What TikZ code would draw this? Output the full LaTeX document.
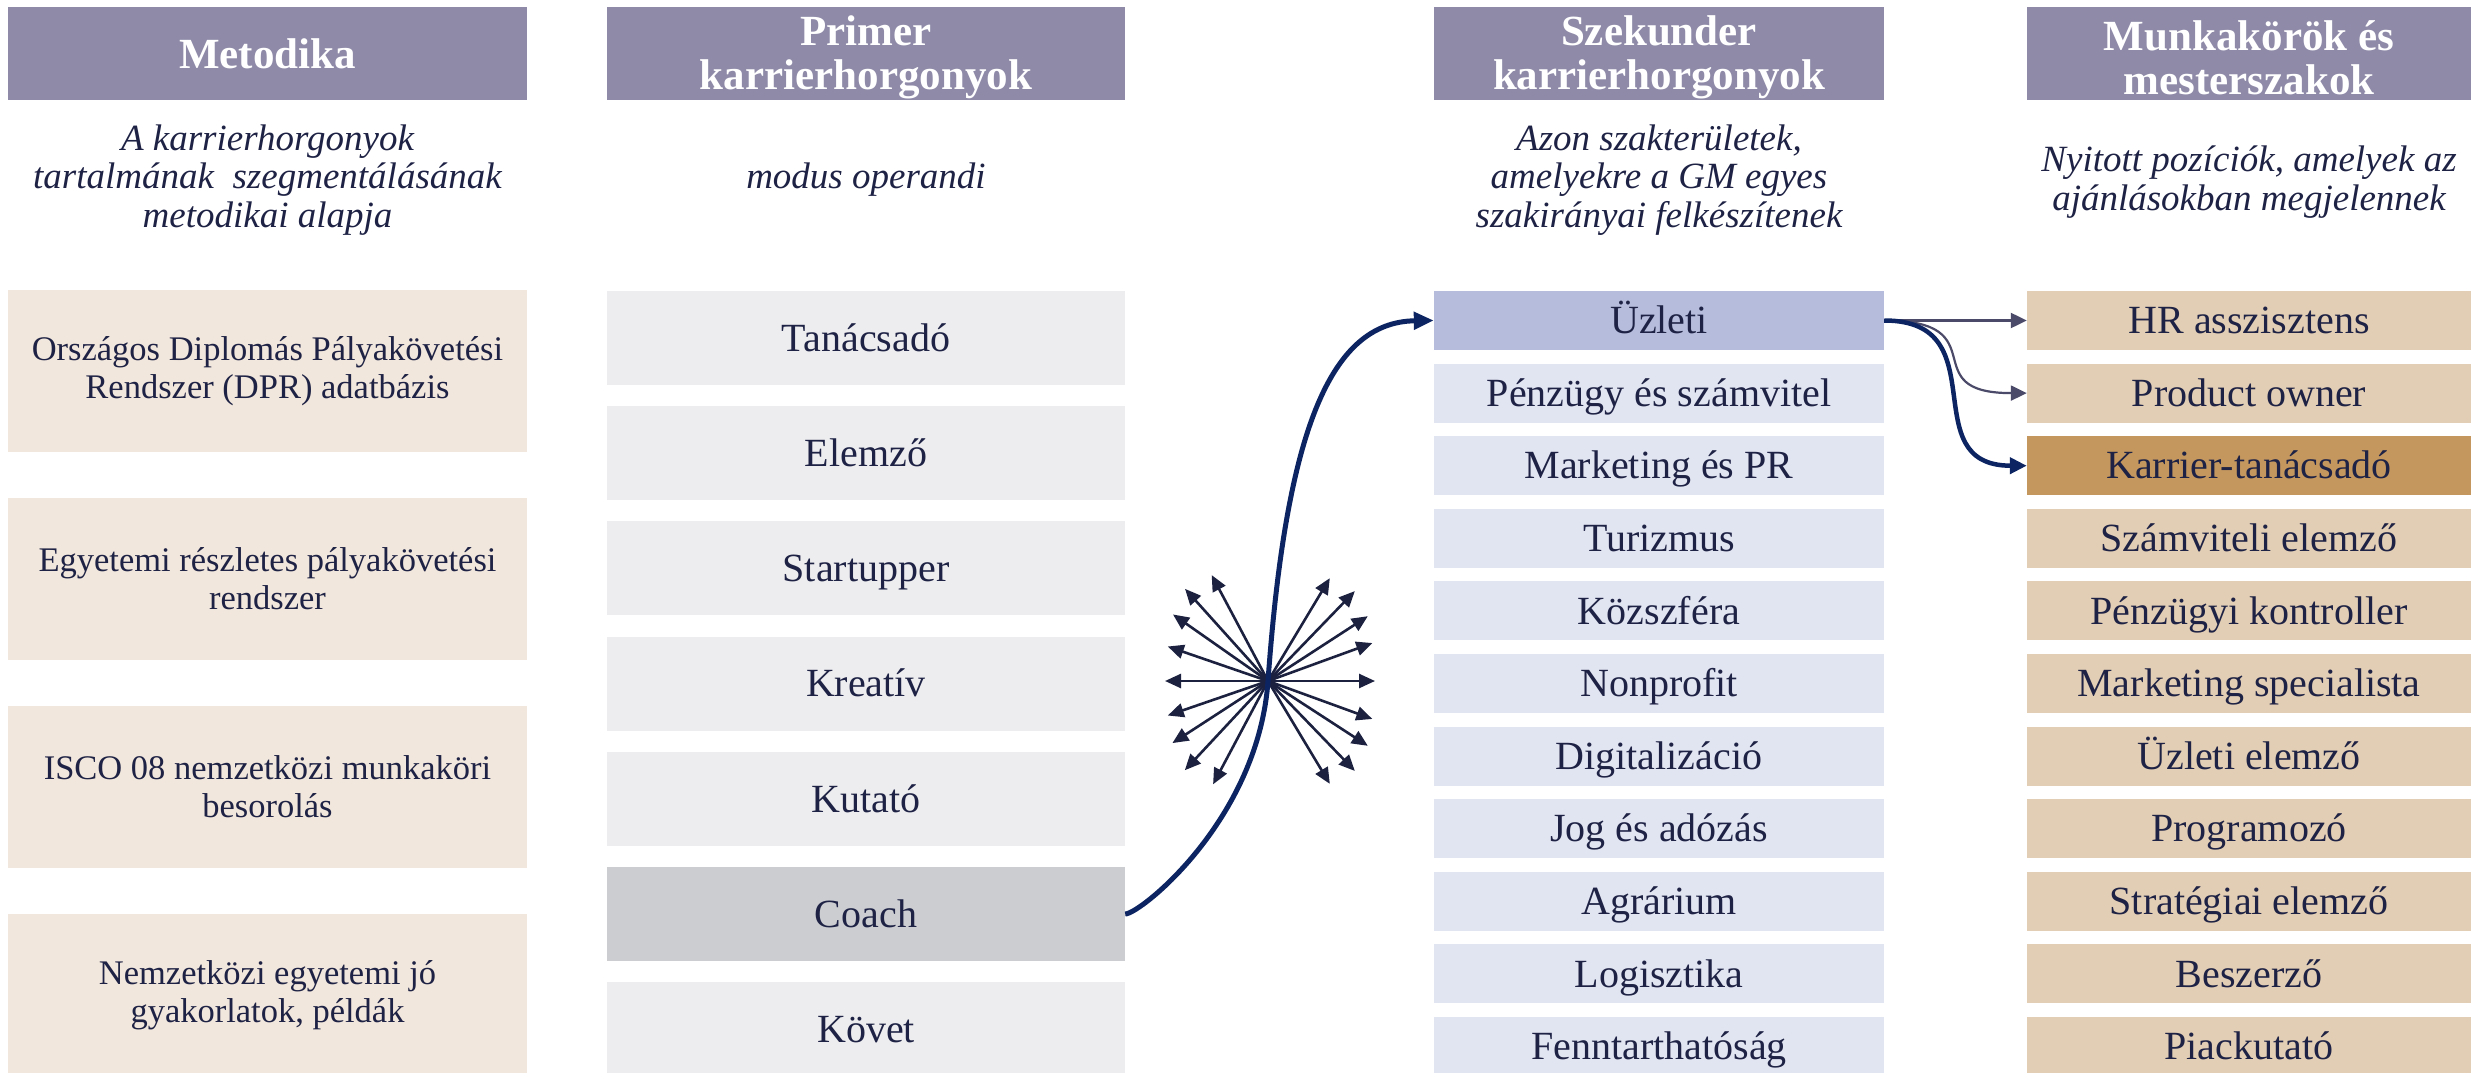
\documentclass[tikz,border=0pt]{standalone}
\usepackage{fontspec}
\setmainfont{Liberation Serif}
\usetikzlibrary{arrows.meta}
\definecolor{hdr}{HTML}{8E8AA8}
\definecolor{ink}{HTML}{1E2244}
\definecolor{metfill}{HTML}{F2E7DC}
\definecolor{primfill}{HTML}{EDEDEF}
\definecolor{primselc}{HTML}{CBCDD1}
\definecolor{szekfill}{HTML}{E1E4F1}
\definecolor{szekselc}{HTML}{B5BCDC}
\definecolor{munkfill}{HTML}{E2CEB4}
\definecolor{munkselc}{HTML}{C4975F}
\definecolor{navy}{HTML}{0D2463}
\definecolor{burstc}{HTML}{1C2140}
\definecolor{thinc}{HTML}{4B4A68}
\tikzset{
  hd/.style={fill=hdr, minimum height=93pt, inner sep=0pt},
  hdtxt/.style={text=white, font=\bfseries\fontsize{43}{44}\selectfont, align=center, inner sep=0pt},
  desc/.style={text=ink, font=\itshape\fontsize{37}{38.5}\selectfont, align=center, inner sep=0pt},
  metbox/.style={fill=metfill, text=ink, font=\fontsize{34.5}{38}\selectfont, align=center, inner sep=0pt, minimum width=519pt, minimum height=162pt},
  itembox/.style={text=ink, font=\fontsize{40}{44}\selectfont, inner sep=0pt, text height=26.5pt, text depth=0pt},
  primbox/.style={itembox, fill=primfill, minimum width=518pt, minimum height=94pt},
  primsel/.style={itembox, fill=primselc, minimum width=518pt, minimum height=94pt},
  szekbox/.style={itembox, fill=szekfill, minimum width=450pt, minimum height=59pt},
  szeksel/.style={itembox, fill=szekselc, minimum width=450pt, minimum height=59pt},
  munkbox/.style={itembox, fill=munkfill, minimum width=444pt, minimum height=59pt},
  munksel/.style={itembox, fill=munkselc, minimum width=444pt, minimum height=59pt},
  burstarr/.style={burstc, line width=2.6pt, -{Triangle[length=16pt,width=14pt]}},
  thinarr/.style={thinc, line width=2.2pt, -{Triangle[length=16pt,width=15pt]}},
  bigarr/.style={navy, line width=5pt, -{Triangle[length=20pt,width=17pt]}},
  midarr/.style={navy, line width=4.5pt, -{Triangle[length=17pt,width=16pt]}}
}
\begin{document}
\begin{tikzpicture}[x=1pt,y=-1pt]
\useasboundingbox (0,0) rectangle (2471,1073);
% headers
\node[hd, minimum width=519pt] (h1) at (267.5,53.5) {};
\node[hd, minimum width=518pt] (h2) at (866,53.5) {};
\node[hd, minimum width=450pt] (h3) at (1659,53.5) {};
\node[hd, minimum width=444pt] (h4) at (2249,53.5) {};
\node[hdtxt] (h1t) at (267.5,53.5) {Metodika};
\node[hdtxt] (h2t) at (866,57) {Primer\\karrierhorgonyok};
\node[hdtxt] (h3t) at (1659,57) {Szekunder\\karrierhorgonyok};
\node[hdtxt] (h4t) at (2249,58) {Munkakörök és\\mesterszakok};
% descriptions
\node[desc] (d1) at (267.5,180) {A karrierhorgonyok\\tartalmának\ \ szegmentálásának\\metodikai alapja};
\node[desc] (d2) at (866,180) {modus operandi};
\node[desc] (d3) at (1659,180) {Azon szakterületek,\\amelyekre a GM egyes\\szakirányai felkészítenek};
\node[desc] (d4) at (2249,182) {Nyitott pozíciók, amelyek az\\ajánlásokban megjelennek};
% column 1
\node[metbox] (k1) at (267.5,371) {Országos Diplomás Pályakövetési\\Rendszer (DPR) adatbázis};
\node[metbox] (k2) at (267.5,579) {Egyetemi részletes pályakövetési\\rendszer};
\node[metbox] (k3) at (267.5,787) {ISCO 08 nemzetközi munkaköri\\besorolás};
\node[metbox] (k4) at (267.5,995) {Nemzetközi egyetemi jó\\gyakorlatok, példák};
% column 2
\foreach \t/\s [count=\i from 0] in {Tanácsadó/primbox, Elemző/primbox, Startupper/primbox, Kreatív/primbox, Kutató/primbox, Coach/primsel, Követ/primbox}
  \node[\s] (p\i) at (866,{338+115.2*\i}) {\t};
% column 3
\foreach \t/\s [count=\i from 0] in {Üzleti/szeksel, Pénzügy és számvitel/szekbox, Marketing és PR/szekbox, Turizmus/szekbox, Közszféra/szekbox, Nonprofit/szekbox, Digitalizáció/szekbox, Jog és adózás/szekbox, Agrárium/szekbox, Logisztika/szekbox, Fenntarthatóság/szekbox}
  \node[\s] (s\i) at (1659,{320.5+72.6*\i}) {\t};
% column 4
\foreach \t/\s [count=\i from 0] in {HR asszisztens/munkbox, Product owner/munkbox, Karrier-tanácsadó/munksel, Számviteli elemző/munkbox, Pénzügyi kontroller/munkbox, Marketing specialista/munkbox, Üzleti elemző/munkbox, Programozó/munkbox, Stratégiai elemző/munkbox, Beszerző/munkbox, Piackutató/munkbox}
  \node[\s] (m\i) at (2249,{320.5+72.6*\i}) {\t};
% burst
\coordinate (burst) at (1268,681);
\foreach \a/\l in {0/107, 20/111, 33/119, 46/125, 59/120, -20/111, -33/119, -46/125, -59/120, 180/103, 161/106, 147/114, 133/122, 118/117, 199/106, 215/116, 228/124, 242/120}
  \draw[burstarr] (burst) -- ++(\a:\l);
% big connector Coach -> Üzleti
\draw[bigarr] (p5.east) .. controls (1140,914) and (1258,820) .. (burst) .. controls (1286,431) and (1330,322) .. (s0.west);
% Üzleti -> jobs
\draw[thinarr] (s0.east) -- (m0.west);
\draw[thinarr] (s0.east) .. controls +(115,0) and +(-115,0) .. (m1.west);
\draw[midarr] (s0.east) .. controls +(115,0) and +(-115,0) .. (m2.west);
\end{tikzpicture}
\end{document}
